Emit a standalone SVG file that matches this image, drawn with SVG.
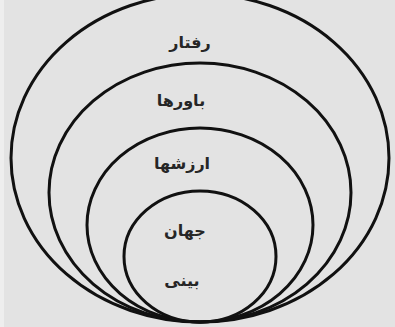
<svg xmlns="http://www.w3.org/2000/svg" width="395" height="327" viewBox="0 0 395 327">
<style>
.ring{fill:none;stroke:#111;stroke-width:3}
.lbl{font-family:"DejaVu Sans",sans-serif;font-size:16px;font-weight:bold;fill:#262626;text-anchor:middle;direction:rtl}
</style>
<rect width="395" height="327" fill="#e3e3e3"/>
<rect width="4" height="327" fill="#eeeeee"/>
<g id="n-raftar"><ellipse class="ring" cx="200" cy="158" rx="189" ry="164"/><text class="lbl" x="190" y="48">رفتار</text></g>
<g id="n-bavarha"><ellipse class="ring" cx="200" cy="192.5" rx="151" ry="129.5"/><text class="lbl" x="181" y="106">باورها</text></g>
<g id="n-arzeshha"><ellipse class="ring" cx="200" cy="225" rx="113" ry="97"/><text class="lbl" x="182" y="169">ارزشها</text></g>
<g id="n-jahanbini"><ellipse class="ring" cx="200" cy="256.5" rx="76" ry="65.5"/><text class="lbl" x="185" y="236">جهان</text><text class="lbl" x="182" y="286">بینی</text></g>
<g id="connectors"></g>
</svg>
